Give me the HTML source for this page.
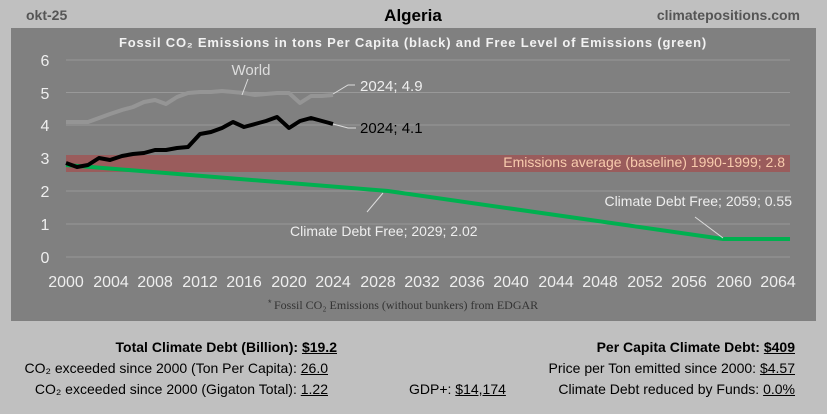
<!DOCTYPE html>
<html><head><meta charset="utf-8"><style>
body{margin:0;width:827px;height:414px;background:#c0c0c0;font-family:"Liberation Sans",sans-serif;overflow:hidden;position:relative}
.t{position:absolute;white-space:nowrap;font-size:14px;color:#000}
u{text-decoration:underline}
</style></head><body>
<svg width="827" height="414" style="position:absolute;left:0;top:0" font-family="Liberation Sans, sans-serif">
<text x="26" y="20" font-size="14" font-weight="bold" fill="#555">okt-25</text>
<text x="413" y="21" font-size="17" font-weight="bold" fill="#000" text-anchor="middle">Algeria</text>
<text x="800" y="20" font-size="14" font-weight="bold" fill="#555" text-anchor="end">climatepositions.com</text>
<rect x="11" y="28" width="805" height="293" fill="#808080"/>
<text x="413" y="47" font-size="13" font-weight="bold" fill="#f2f2f2" text-anchor="middle" letter-spacing="0.8">Fossil CO₂ Emissions in tons Per Capita (black) and Free Level of Emissions (green)</text>
<g stroke="#999" stroke-width="1">
<line x1="66" x2="790" y1="60" y2="60"/><line x1="66" x2="790" y1="92.5" y2="92.5"/><line x1="66" x2="790" y1="125" y2="125"/><line x1="66" x2="790" y1="158" y2="158"/><line x1="66" x2="790" y1="191" y2="191"/><line x1="66" x2="790" y1="224" y2="224"/><line x1="66" x2="790" y1="257" y2="257"/>
</g>
<g font-size="16" fill="#eee" text-anchor="middle">
<text x="45" y="66">6</text><text x="45" y="99">5</text><text x="45" y="131">4</text><text x="45" y="164">3</text><text x="45" y="197">2</text><text x="45" y="230">1</text><text x="45" y="263">0</text>
<text x="66" y="287">2000</text><text x="111" y="287">2004</text><text x="155" y="287">2008</text><text x="200" y="287">2012</text><text x="244" y="287">2016</text><text x="289" y="287">2020</text><text x="333" y="287">2024</text><text x="378" y="287">2028</text><text x="422" y="287">2032</text><text x="467" y="287">2036</text><text x="511" y="287">2040</text><text x="556" y="287">2044</text><text x="600" y="287">2048</text><text x="645" y="287">2052</text><text x="689" y="287">2056</text><text x="734" y="287">2060</text><text x="778" y="287">2064</text>
</g>
<rect x="66" y="155" width="724" height="17" fill="#9a5c5c"/>
<text x="785" y="167" font-size="14" fill="#f8cbad" text-anchor="end">Emissions average (baseline) 1990-1999; 2.8</text>
<polyline fill="none" stroke="#00b050" stroke-width="4" points="66,165 388,191 723,239 790,239"/>
<polyline fill="none" stroke="#959595" stroke-width="4" stroke-linejoin="round" points="66,122 77,122 88,122 99,118 110,114 122,110 133,107 144,102 155,100 166,104 177,97 188,93 200,92 211,92 222,91 233,92 244,93 255,95 266,94 277,93 289,93 300,103 311,96 322,96 333,95"/>
<polyline fill="none" stroke="#000" stroke-width="4" stroke-linejoin="round" points="66,163 77,167 88,165 99,158 110,160 122,156 133,154 144,153 155,150 166,150 177,148 188,147 200,134 211,132 222,128 233,122 244,127 255,124 266,121 277,117 289,128 300,121 311,118 322,121 333,124"/>
<g stroke="#ddd" stroke-width="1" fill="none">
<line x1="248" y1="79" x2="242" y2="95"/><polyline points="333,94 348,85 355,85"/><polyline points="333,124 348,128 356,128"/><line x1="383" y1="193" x2="367" y2="212"/><line x1="695" y1="217" x2="723" y2="238"/>
</g>
<text x="251" y="75" font-size="15" fill="#ddd" text-anchor="middle">World</text>
<text x="360" y="91" font-size="15" fill="#eee">2024; 4.9</text>
<text x="360" y="133" font-size="15" fill="#000">2024; 4.1</text>
<text x="290" y="236" font-size="14" fill="#eee">Climate Debt Free; 2029; 2.02</text>
<text x="792" y="206" font-size="14" fill="#eee" text-anchor="end">Climate Debt Free; 2059; 0.55</text>
<text x="268" y="306" font-size="9" fill="#333">*</text>
<text x="274" y="309" font-size="12" fill="#333" font-family="Liberation Serif, serif">Fossil CO₂ Emissions (without bunkers) from EDGAR</text>
</svg>
<div class="t" style="right:490px;top:339px;font-weight:bold">Total Climate Debt (Billion): <u>$19.2</u></div>
<div class="t" style="right:499px;top:360px">CO₂ exceeded since 2000 (Ton Per Capita): <u>26.0</u></div>
<div class="t" style="right:499px;top:381px">CO₂ exceeded since 2000 (Gigaton Total): <u>1.22</u></div>
<div class="t" style="left:409px;top:381px">GDP+: <u>$14,174</u></div>
<div class="t" style="right:32px;top:339px;font-weight:bold">Per Capita Climate Debt: <u>$409</u></div>
<div class="t" style="right:32px;top:360px">Price per Ton emitted since 2000: <u>$4.57</u></div>
<div class="t" style="right:32px;top:381px">Climate Debt reduced by Funds: <u>0.0%</u></div>
</body></html>
